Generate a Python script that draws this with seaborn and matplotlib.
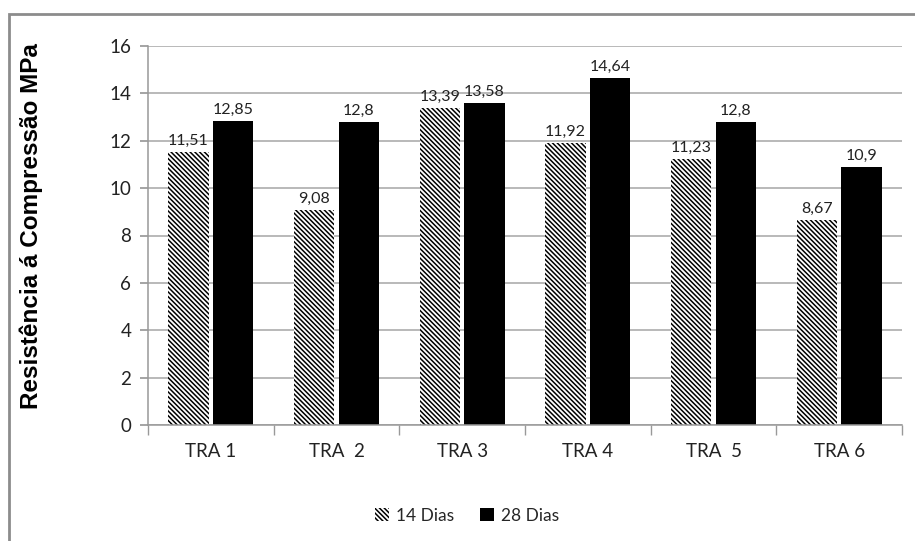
import matplotlib
matplotlib.use("Agg")
import matplotlib.pyplot as plt
import seaborn as sns
import pandas as pd
from matplotlib.patches import Patch, Rectangle
from matplotlib.ticker import FixedLocator

categories = ["TRA 1", "TRA 2", "TRA 3", "TRA 4", "TRA 5", "TRA 6"]
tick_labels = ["TRA 1", "TRA  2", "TRA 3", "TRA 4", "TRA  5", "TRA 6"]
series_names = ["14 Dias", "28 Dias"]
dias14 = [11.51, 9.08, 13.39, 11.92, 11.23, 8.67]
dias28 = [12.85, 12.8, 13.58, 14.64, 12.8, 10.9]

df = pd.DataFrame({
    "cat": categories * 2,
    "serie": [series_names[0]] * 6 + [series_names[1]] * 6,
    "val": dias14 + dias28,
})

sns.set_theme(style="white")
plt.rcParams["font.family"] = ["Lato", "DejaVu Sans"]
plt.rcParams["hatch.linewidth"] = 1.1
plt.rcParams["hatch.color"] = "black"

HATCH = "\\" * 7

fig = plt.figure(figsize=(9.15, 5.41), dpi=100)
ax = fig.add_axes([148/915, 1-425/541, (902-148)/915, (425-46)/541])

sns.barplot(data=df, x="cat", y="val", hue="serie", order=categories,
            hue_order=series_names, palette=["white", "black"],
            width=0.71, gap=0.1, ax=ax, legend=False, saturation=1)

for i, cont in enumerate(ax.containers):
    for bar in cont:
        if i == 0:
            bar.set_facecolor("white")
            bar.set_edgecolor("black")
            bar.set_linewidth(0)
            bar.set_hatch(HATCH)
        else:
            bar.set_edgecolor("none")
    labels = [f"{v:g}".replace(".", ",") for v in (dias14 if i == 0 else dias28)]
    ax.bar_label(cont, labels=labels, padding=3, fontsize=11.5, color="#222222")

ax.set_ylim(0, 16)
ax.set_xlim(-0.5, 5.5)
ax.set_yticks(range(0, 17, 2))
ax.tick_params(axis="y", labelsize=13.5, length=6, color="#999999", left=True, pad=6,
               labelcolor="#222222")
ax.yaxis.grid(True, color="#a6a6a6", linewidth=1.1)
ax.set_axisbelow(True)
ax.set_xticks(range(6))
ax.set_xticklabels(tick_labels, fontsize=13.5, color="#222222")
ax.tick_params(axis="x", length=0, pad=13)
ax.xaxis.set_minor_locator(FixedLocator([x - 0.5 for x in range(7)]))
ax.tick_params(axis="x", which="minor", bottom=True, length=7, color="#999999", width=1)
for s in ["top", "right"]:
    ax.spines[s].set_visible(False)
for s in ["left", "bottom"]:
    ax.spines[s].set_color("#999999")
    ax.spines[s].set_linewidth(1.1)
ax.set_xlabel("")
ax.set_ylabel("Resistência á Compressão MPa", fontsize=17.5, fontweight="bold",
              family=["Liberation Sans", "DejaVu Sans"], color="black")
ax.yaxis.set_label_coords(-0.139, 0.525)

handles = [Patch(facecolor="white", hatch=HATCH, edgecolor="black", linewidth=0, label="14 Dias"),
           Patch(facecolor="black", edgecolor="none", label="28 Dias")]
fig.legend(handles=handles, loc="center", bbox_to_anchor=(0.510, 0.047), ncol=2,
           frameon=False, fontsize=12.5, handlelength=0.8, handleheight=0.8,
           columnspacing=1.5, handletextpad=0.4)

fig.patches.append(Rectangle((9/915, -0.1), 1.1, 1 - 14/541 + 0.1, transform=fig.transFigure,
                             fill=False, edgecolor="#8c8c8c", linewidth=2))

fig.savefig("out.png", dpi=100)
